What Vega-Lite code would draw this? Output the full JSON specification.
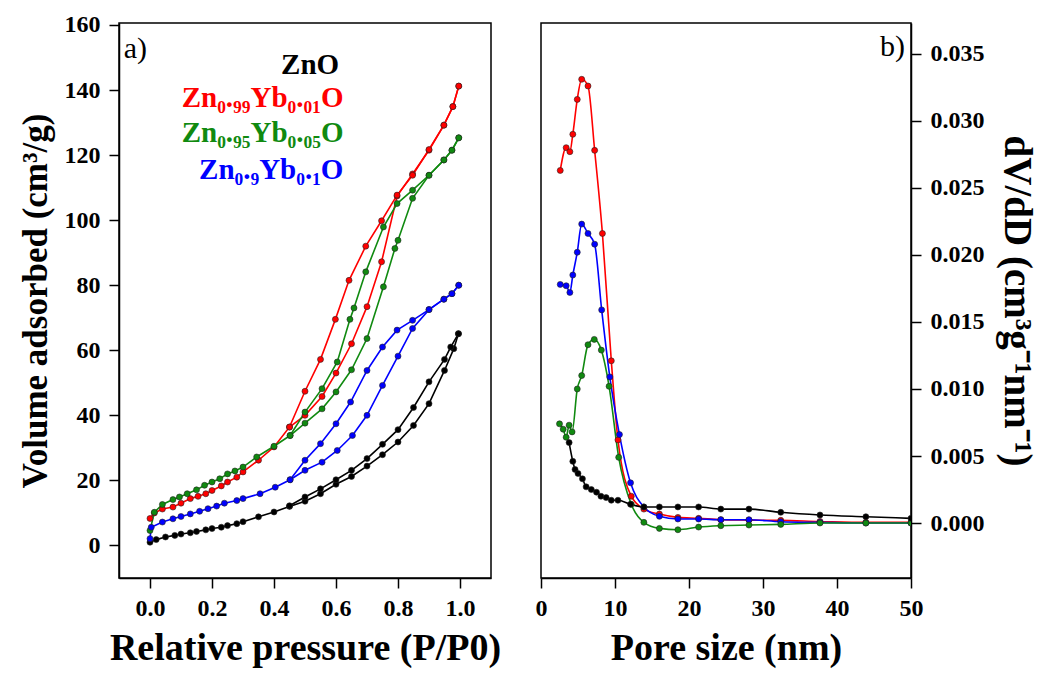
{
  "$schema": "https://vega.github.io/schema/vega-lite/v6.json",
  "padding": {"left": 17, "top": 12, "right": 4, "bottom": 2},
  "background": "white",
  "spacing": 50,
  "bounds": "flush",
  "config": {
    "view": {"stroke": "black", "strokeWidth": 1.5},
    "font": "Liberation Serif",
    "axis": {
      "grid": false,
      "domainColor": "black",
      "domainWidth": 1.5,
      "tickColor": "black",
      "tickWidth": 1.5,
      "labelFont": "Liberation Serif",
      "labelFontWeight": "bold",
      "labelFontSize": 24,
      "labelColor": "black",
      "titleFont": "Liberation Serif",
      "titleFontWeight": "bold",
      "titleFontSize": 38,
      "titleColor": "black",
      "labelBound": false,
      "labelOverlap": false,
      "labelFlush": false
    }
  },
  "datasets": {
    "iso": [
      {"s": "ZnO", "b": "ads", "p": 0, "v": 1.0},
      {"s": "ZnO", "b": "ads", "p": 0.02, "v": 1.8},
      {"s": "ZnO", "b": "ads", "p": 0.05, "v": 2.6},
      {"s": "ZnO", "b": "ads", "p": 0.08, "v": 3.1},
      {"s": "ZnO", "b": "ads", "p": 0.1, "v": 3.5},
      {"s": "ZnO", "b": "ads", "p": 0.13, "v": 3.9},
      {"s": "ZnO", "b": "ads", "p": 0.15, "v": 4.3},
      {"s": "ZnO", "b": "ads", "p": 0.18, "v": 4.8},
      {"s": "ZnO", "b": "ads", "p": 0.2, "v": 5.2},
      {"s": "ZnO", "b": "ads", "p": 0.23, "v": 5.6},
      {"s": "ZnO", "b": "ads", "p": 0.25, "v": 6.1},
      {"s": "ZnO", "b": "ads", "p": 0.28, "v": 6.7},
      {"s": "ZnO", "b": "ads", "p": 0.3, "v": 7.3},
      {"s": "ZnO", "b": "ads", "p": 0.35, "v": 8.8},
      {"s": "ZnO", "b": "ads", "p": 0.4, "v": 10.3},
      {"s": "ZnO", "b": "ads", "p": 0.45, "v": 12.0},
      {"s": "ZnO", "b": "ads", "p": 0.5, "v": 13.6},
      {"s": "ZnO", "b": "ads", "p": 0.55, "v": 15.9},
      {"s": "ZnO", "b": "ads", "p": 0.6, "v": 18.8},
      {"s": "ZnO", "b": "ads", "p": 0.65, "v": 21.2},
      {"s": "ZnO", "b": "ads", "p": 0.7, "v": 24.4},
      {"s": "ZnO", "b": "ads", "p": 0.75, "v": 27.9},
      {"s": "ZnO", "b": "ads", "p": 0.8, "v": 31.8},
      {"s": "ZnO", "b": "ads", "p": 0.85, "v": 36.9},
      {"s": "ZnO", "b": "ads", "p": 0.9, "v": 43.6},
      {"s": "ZnO", "b": "ads", "p": 0.95, "v": 53.8},
      {"s": "ZnO", "b": "ads", "p": 0.98, "v": 60.5},
      {"s": "ZnO", "b": "ads", "p": 0.995, "v": 65.1},
      {"s": "ZnO", "b": "des", "p": 0.995, "v": 65.1},
      {"s": "ZnO", "b": "des", "p": 0.97, "v": 61.0},
      {"s": "ZnO", "b": "des", "p": 0.95, "v": 57.2},
      {"s": "ZnO", "b": "des", "p": 0.9, "v": 50.3},
      {"s": "ZnO", "b": "des", "p": 0.85, "v": 42.4},
      {"s": "ZnO", "b": "des", "p": 0.8, "v": 35.6},
      {"s": "ZnO", "b": "des", "p": 0.75, "v": 31.1},
      {"s": "ZnO", "b": "des", "p": 0.7, "v": 26.7},
      {"s": "ZnO", "b": "des", "p": 0.65, "v": 23.1},
      {"s": "ZnO", "b": "des", "p": 0.6, "v": 20.2},
      {"s": "ZnO", "b": "des", "p": 0.55, "v": 17.4},
      {"s": "ZnO", "b": "des", "p": 0.5, "v": 14.9},
      {"s": "ZnO", "b": "des", "p": 0.45, "v": 12.2},

      {"s": "Zn₀.₉₉Yb₀.₀₁O", "b": "ads", "p": 0, "v": 8.3},
      {"s": "Zn₀.₉₉Yb₀.₀₁O", "b": "ads", "p": 0.014, "v": 10.0},
      {"s": "Zn₀.₉₉Yb₀.₀₁O", "b": "ads", "p": 0.04, "v": 11.2},
      {"s": "Zn₀.₉₉Yb₀.₀₁O", "b": "ads", "p": 0.074, "v": 11.8},
      {"s": "Zn₀.₉₉Yb₀.₀₁O", "b": "ads", "p": 0.1, "v": 13.0},
      {"s": "Zn₀.₉₉Yb₀.₀₁O", "b": "ads", "p": 0.13, "v": 14.4},
      {"s": "Zn₀.₉₉Yb₀.₀₁O", "b": "ads", "p": 0.155, "v": 15.1},
      {"s": "Zn₀.₉₉Yb₀.₀₁O", "b": "ads", "p": 0.18, "v": 15.9},
      {"s": "Zn₀.₉₉Yb₀.₀₁O", "b": "ads", "p": 0.2, "v": 16.9},
      {"s": "Zn₀.₉₉Yb₀.₀₁O", "b": "ads", "p": 0.23, "v": 18.3},
      {"s": "Zn₀.₉₉Yb₀.₀₁O", "b": "ads", "p": 0.25, "v": 19.5},
      {"s": "Zn₀.₉₉Yb₀.₀₁O", "b": "ads", "p": 0.28, "v": 21.0},
      {"s": "Zn₀.₉₉Yb₀.₀₁O", "b": "ads", "p": 0.3, "v": 22.6},
      {"s": "Zn₀.₉₉Yb₀.₀₁O", "b": "ads", "p": 0.35, "v": 26.2},
      {"s": "Zn₀.₉₉Yb₀.₀₁O", "b": "ads", "p": 0.4, "v": 30.3},
      {"s": "Zn₀.₉₉Yb₀.₀₁O", "b": "ads", "p": 0.45, "v": 36.4},
      {"s": "Zn₀.₉₉Yb₀.₀₁O", "b": "ads", "p": 0.5, "v": 40.0},
      {"s": "Zn₀.₉₉Yb₀.₀₁O", "b": "ads", "p": 0.555, "v": 45.8},
      {"s": "Zn₀.₉₉Yb₀.₀₁O", "b": "ads", "p": 0.6, "v": 53.0},
      {"s": "Zn₀.₉₉Yb₀.₀₁O", "b": "ads", "p": 0.65, "v": 62.0},
      {"s": "Zn₀.₉₉Yb₀.₀₁O", "b": "ads", "p": 0.7, "v": 73.4},
      {"s": "Zn₀.₉₉Yb₀.₀₁O", "b": "ads", "p": 0.747, "v": 87.2},
      {"s": "Zn₀.₉₉Yb₀.₀₁O", "b": "ads", "p": 0.797, "v": 107.4},
      {"s": "Zn₀.₉₉Yb₀.₀₁O", "b": "ads", "p": 0.847, "v": 114.2},
      {"s": "Zn₀.₉₉Yb₀.₀₁O", "b": "ads", "p": 0.9, "v": 121.5},
      {"s": "Zn₀.₉₉Yb₀.₀₁O", "b": "ads", "p": 0.948, "v": 129.2},
      {"s": "Zn₀.₉₉Yb₀.₀₁O", "b": "ads", "p": 0.977, "v": 134.9},
      {"s": "Zn₀.₉₉Yb₀.₀₁O", "b": "ads", "p": 0.996, "v": 141.2},
      {"s": "Zn₀.₉₉Yb₀.₀₁O", "b": "des", "p": 0.996, "v": 141.2},
      {"s": "Zn₀.₉₉Yb₀.₀₁O", "b": "des", "p": 0.977, "v": 134.9},
      {"s": "Zn₀.₉₉Yb₀.₀₁O", "b": "des", "p": 0.948, "v": 129.2},
      {"s": "Zn₀.₉₉Yb₀.₀₁O", "b": "des", "p": 0.9, "v": 121.7},
      {"s": "Zn₀.₉₉Yb₀.₀₁O", "b": "des", "p": 0.847, "v": 113.8},
      {"s": "Zn₀.₉₉Yb₀.₀₁O", "b": "des", "p": 0.797, "v": 107.7},
      {"s": "Zn₀.₉₉Yb₀.₀₁O", "b": "des", "p": 0.747, "v": 99.8},
      {"s": "Zn₀.₉₉Yb₀.₀₁O", "b": "des", "p": 0.696, "v": 92.0},
      {"s": "Zn₀.₉₉Yb₀.₀₁O", "b": "des", "p": 0.642, "v": 81.5},
      {"s": "Zn₀.₉₉Yb₀.₀₁O", "b": "des", "p": 0.598, "v": 69.5},
      {"s": "Zn₀.₉₉Yb₀.₀₁O", "b": "des", "p": 0.55, "v": 57.2},
      {"s": "Zn₀.₉₉Yb₀.₀₁O", "b": "des", "p": 0.5, "v": 47.4},
      {"s": "Zn₀.₉₉Yb₀.₀₁O", "b": "des", "p": 0.45, "v": 36.4},

      {"s": "Zn₀.₉₅Yb₀.₀₅O", "b": "ads", "p": 0, "v": 4.6},
      {"s": "Zn₀.₉₅Yb₀.₀₅O", "b": "ads", "p": 0.014, "v": 10.2},
      {"s": "Zn₀.₉₅Yb₀.₀₅O", "b": "ads", "p": 0.04, "v": 12.6},
      {"s": "Zn₀.₉₅Yb₀.₀₅O", "b": "ads", "p": 0.074, "v": 14.1},
      {"s": "Zn₀.₉₅Yb₀.₀₅O", "b": "ads", "p": 0.095, "v": 14.9},
      {"s": "Zn₀.₉₅Yb₀.₀₅O", "b": "ads", "p": 0.12, "v": 15.9},
      {"s": "Zn₀.₉₅Yb₀.₀₅O", "b": "ads", "p": 0.15, "v": 17.1},
      {"s": "Zn₀.₉₅Yb₀.₀₅O", "b": "ads", "p": 0.176, "v": 18.5},
      {"s": "Zn₀.₉₅Yb₀.₀₅O", "b": "ads", "p": 0.2, "v": 19.5},
      {"s": "Zn₀.₉₅Yb₀.₀₅O", "b": "ads", "p": 0.225, "v": 20.5},
      {"s": "Zn₀.₉₅Yb₀.₀₅O", "b": "ads", "p": 0.25, "v": 22.0},
      {"s": "Zn₀.₉₅Yb₀.₀₅O", "b": "ads", "p": 0.274, "v": 22.9},
      {"s": "Zn₀.₉₅Yb₀.₀₅O", "b": "ads", "p": 0.3, "v": 24.1},
      {"s": "Zn₀.₉₅Yb₀.₀₅O", "b": "ads", "p": 0.344, "v": 27.2},
      {"s": "Zn₀.₉₅Yb₀.₀₅O", "b": "ads", "p": 0.4, "v": 30.5},
      {"s": "Zn₀.₉₅Yb₀.₀₅O", "b": "ads", "p": 0.452, "v": 33.8},
      {"s": "Zn₀.₉₅Yb₀.₀₅O", "b": "ads", "p": 0.5, "v": 37.6},
      {"s": "Zn₀.₉₅Yb₀.₀₅O", "b": "ads", "p": 0.555, "v": 42.0},
      {"s": "Zn₀.₉₅Yb₀.₀₅O", "b": "ads", "p": 0.6, "v": 47.2},
      {"s": "Zn₀.₉₅Yb₀.₀₅O", "b": "ads", "p": 0.65, "v": 54.0},
      {"s": "Zn₀.₉₅Yb₀.₀₅O", "b": "ads", "p": 0.7, "v": 63.6},
      {"s": "Zn₀.₉₅Yb₀.₀₅O", "b": "ads", "p": 0.753, "v": 79.5},
      {"s": "Zn₀.₉₅Yb₀.₀₅O", "b": "ads", "p": 0.79, "v": 91.3},
      {"s": "Zn₀.₉₅Yb₀.₀₅O", "b": "ads", "p": 0.8, "v": 93.8},
      {"s": "Zn₀.₉₅Yb₀.₀₅O", "b": "ads", "p": 0.847, "v": 106.7},
      {"s": "Zn₀.₉₅Yb₀.₀₅O", "b": "ads", "p": 0.9, "v": 113.8},
      {"s": "Zn₀.₉₅Yb₀.₀₅O", "b": "ads", "p": 0.948, "v": 118.5},
      {"s": "Zn₀.₉₅Yb₀.₀₅O", "b": "ads", "p": 0.974, "v": 121.5},
      {"s": "Zn₀.₉₅Yb₀.₀₅O", "b": "ads", "p": 0.996, "v": 125.3},
      {"s": "Zn₀.₉₅Yb₀.₀₅O", "b": "des", "p": 0.996, "v": 125.3},
      {"s": "Zn₀.₉₅Yb₀.₀₅O", "b": "des", "p": 0.974, "v": 121.5},
      {"s": "Zn₀.₉₅Yb₀.₀₅O", "b": "des", "p": 0.948, "v": 118.5},
      {"s": "Zn₀.₉₅Yb₀.₀₅O", "b": "des", "p": 0.9, "v": 113.8},
      {"s": "Zn₀.₉₅Yb₀.₀₅O", "b": "des", "p": 0.847, "v": 109.2},
      {"s": "Zn₀.₉₅Yb₀.₀₅O", "b": "des", "p": 0.797, "v": 105.1},
      {"s": "Zn₀.₉₅Yb₀.₀₅O", "b": "des", "p": 0.753, "v": 97.9},
      {"s": "Zn₀.₉₅Yb₀.₀₅O", "b": "des", "p": 0.696, "v": 84.1},
      {"s": "Zn₀.₉₅Yb₀.₀₅O", "b": "des", "p": 0.658, "v": 73.0},
      {"s": "Zn₀.₉₅Yb₀.₀₅O", "b": "des", "p": 0.645, "v": 69.5},
      {"s": "Zn₀.₉₅Yb₀.₀₅O", "b": "des", "p": 0.604, "v": 56.4},
      {"s": "Zn₀.₉₅Yb₀.₀₅O", "b": "des", "p": 0.555, "v": 48.2},
      {"s": "Zn₀.₉₅Yb₀.₀₅O", "b": "des", "p": 0.5, "v": 41.0},
      {"s": "Zn₀.₉₅Yb₀.₀₅O", "b": "des", "p": 0.452, "v": 33.8},

      {"s": "Zn₀.₉Yb₀.₁O", "b": "ads", "p": 0, "v": 2.1},
      {"s": "Zn₀.₉Yb₀.₁O", "b": "ads", "p": 0.004, "v": 5.6},
      {"s": "Zn₀.₉Yb₀.₁O", "b": "ads", "p": 0.04, "v": 7.2},
      {"s": "Zn₀.₉Yb₀.₁O", "b": "ads", "p": 0.074, "v": 8.2},
      {"s": "Zn₀.₉Yb₀.₁O", "b": "ads", "p": 0.1, "v": 8.9},
      {"s": "Zn₀.₉Yb₀.₁O", "b": "ads", "p": 0.13, "v": 9.7},
      {"s": "Zn₀.₉Yb₀.₁O", "b": "ads", "p": 0.16, "v": 10.5},
      {"s": "Zn₀.₉Yb₀.₁O", "b": "ads", "p": 0.187, "v": 11.3},
      {"s": "Zn₀.₉Yb₀.₁O", "b": "ads", "p": 0.215, "v": 12.1},
      {"s": "Zn₀.₉Yb₀.₁O", "b": "ads", "p": 0.24, "v": 13.0},
      {"s": "Zn₀.₉Yb₀.₁O", "b": "ads", "p": 0.28, "v": 13.8},
      {"s": "Zn₀.₉Yb₀.₁O", "b": "ads", "p": 0.3, "v": 14.4},
      {"s": "Zn₀.₉Yb₀.₁O", "b": "ads", "p": 0.355, "v": 15.9},
      {"s": "Zn₀.₉Yb₀.₁O", "b": "ads", "p": 0.404, "v": 17.9},
      {"s": "Zn₀.₉Yb₀.₁O", "b": "ads", "p": 0.452, "v": 20.2},
      {"s": "Zn₀.₉Yb₀.₁O", "b": "ads", "p": 0.5, "v": 23.1},
      {"s": "Zn₀.₉Yb₀.₁O", "b": "ads", "p": 0.555, "v": 25.6},
      {"s": "Zn₀.₉Yb₀.₁O", "b": "ads", "p": 0.604, "v": 29.2},
      {"s": "Zn₀.₉Yb₀.₁O", "b": "ads", "p": 0.653, "v": 33.8},
      {"s": "Zn₀.₉Yb₀.₁O", "b": "ads", "p": 0.7, "v": 40.0},
      {"s": "Zn₀.₉Yb₀.₁O", "b": "ads", "p": 0.75, "v": 49.2},
      {"s": "Zn₀.₉Yb₀.₁O", "b": "ads", "p": 0.8, "v": 58.2},
      {"s": "Zn₀.₉Yb₀.₁O", "b": "ads", "p": 0.847, "v": 66.7},
      {"s": "Zn₀.₉Yb₀.₁O", "b": "ads", "p": 0.9, "v": 72.5},
      {"s": "Zn₀.₉Yb₀.₁O", "b": "ads", "p": 0.948, "v": 75.7},
      {"s": "Zn₀.₉Yb₀.₁O", "b": "ads", "p": 0.974, "v": 77.4},
      {"s": "Zn₀.₉Yb₀.₁O", "b": "ads", "p": 0.996, "v": 80.0},
      {"s": "Zn₀.₉Yb₀.₁O", "b": "des", "p": 0.996, "v": 80.0},
      {"s": "Zn₀.₉Yb₀.₁O", "b": "des", "p": 0.974, "v": 77.4},
      {"s": "Zn₀.₉Yb₀.₁O", "b": "des", "p": 0.948, "v": 75.7},
      {"s": "Zn₀.₉Yb₀.₁O", "b": "des", "p": 0.9, "v": 72.5},
      {"s": "Zn₀.₉Yb₀.₁O", "b": "des", "p": 0.847, "v": 69.2},
      {"s": "Zn₀.₉Yb₀.₁O", "b": "des", "p": 0.797, "v": 66.2},
      {"s": "Zn₀.₉Yb₀.₁O", "b": "des", "p": 0.75, "v": 61.0},
      {"s": "Zn₀.₉Yb₀.₁O", "b": "des", "p": 0.7, "v": 53.8},
      {"s": "Zn₀.₉Yb₀.₁O", "b": "des", "p": 0.647, "v": 44.1},
      {"s": "Zn₀.₉Yb₀.₁O", "b": "des", "p": 0.6, "v": 37.4},
      {"s": "Zn₀.₉Yb₀.₁O", "b": "des", "p": 0.55, "v": 31.3},
      {"s": "Zn₀.₉Yb₀.₁O", "b": "des", "p": 0.5, "v": 26.2},
      {"s": "Zn₀.₉Yb₀.₁O", "b": "des", "p": 0.452, "v": 20.2}
    ],
    "psd": [
      {"s": "Zn₀.₉₉Yb₀.₀₁O", "d": 2.6, "y": 0.0263},
      {"s": "Zn₀.₉₉Yb₀.₀₁O", "d": 3.4, "y": 0.0280},
      {"s": "Zn₀.₉₉Yb₀.₀₁O", "d": 3.9, "y": 0.0277},
      {"s": "Zn₀.₉₉Yb₀.₀₁O", "d": 4.3, "y": 0.0290},
      {"s": "Zn₀.₉₉Yb₀.₀₁O", "d": 4.9, "y": 0.0316},
      {"s": "Zn₀.₉₉Yb₀.₀₁O", "d": 5.5, "y": 0.0331},
      {"s": "Zn₀.₉₉Yb₀.₀₁O", "d": 6.35, "y": 0.0326},
      {"s": "Zn₀.₉₉Yb₀.₀₁O", "d": 7.25, "y": 0.0278},
      {"s": "Zn₀.₉₉Yb₀.₀₁O", "d": 8.3, "y": 0.0216},
      {"s": "Zn₀.₉₉Yb₀.₀₁O", "d": 9.5, "y": 0.0121},
      {"s": "Zn₀.₉₉Yb₀.₀₁O", "d": 10.4, "y": 0.0062},
      {"s": "Zn₀.₉₉Yb₀.₀₁O", "d": 12.2, "y": 0.0020},
      {"s": "Zn₀.₉₉Yb₀.₀₁O", "d": 13.9, "y": 0.00104},
      {"s": "Zn₀.₉₉Yb₀.₀₁O", "d": 16.0, "y": 0.00067},
      {"s": "Zn₀.₉₉Yb₀.₀₁O", "d": 18.5, "y": 0.00042},
      {"s": "Zn₀.₉₉Yb₀.₀₁O", "d": 21.3, "y": 0.00035},
      {"s": "Zn₀.₉₉Yb₀.₀₁O", "d": 24.3, "y": 0.00025},
      {"s": "Zn₀.₉₉Yb₀.₀₁O", "d": 28.1, "y": 0.00022},
      {"s": "Zn₀.₉₉Yb₀.₀₁O", "d": 32.4, "y": 0.0002},
      {"s": "Zn₀.₉₉Yb₀.₀₁O", "d": 37.7, "y": 0.00012},
      {"s": "Zn₀.₉₉Yb₀.₀₁O", "d": 43.9, "y": 0.00005},
      {"s": "Zn₀.₉₉Yb₀.₀₁O", "d": 50, "y": 0.00005},

      {"s": "Zn₀.₉Yb₀.₁O", "d": 2.6, "y": 0.0178},
      {"s": "Zn₀.₉Yb₀.₁O", "d": 3.4, "y": 0.0177},
      {"s": "Zn₀.₉Yb₀.₁O", "d": 3.9, "y": 0.0172},
      {"s": "Zn₀.₉Yb₀.₁O", "d": 4.3, "y": 0.0185},
      {"s": "Zn₀.₉Yb₀.₁O", "d": 4.9, "y": 0.0202},
      {"s": "Zn₀.₉Yb₀.₁O", "d": 5.5, "y": 0.0223},
      {"s": "Zn₀.₉Yb₀.₁O", "d": 6.35, "y": 0.0216},
      {"s": "Zn₀.₉Yb₀.₁O", "d": 7.25, "y": 0.0208},
      {"s": "Zn₀.₉Yb₀.₁O", "d": 8.2, "y": 0.0159},
      {"s": "Zn₀.₉Yb₀.₁O", "d": 9.3, "y": 0.0109},
      {"s": "Zn₀.₉Yb₀.₁O", "d": 10.6, "y": 0.0066},
      {"s": "Zn₀.₉Yb₀.₁O", "d": 12.1, "y": 0.0030},
      {"s": "Zn₀.₉Yb₀.₁O", "d": 13.9, "y": 0.0012},
      {"s": "Zn₀.₉Yb₀.₁O", "d": 16.0, "y": 0.0005},
      {"s": "Zn₀.₉Yb₀.₁O", "d": 18.5, "y": 0.0003},
      {"s": "Zn₀.₉Yb₀.₁O", "d": 21.3, "y": 0.0003},
      {"s": "Zn₀.₉Yb₀.₁O", "d": 24.3, "y": 0.00025},
      {"s": "Zn₀.₉Yb₀.₁O", "d": 28.1, "y": 0.00025},
      {"s": "Zn₀.₉Yb₀.₁O", "d": 32.4, "y": 0.0001},
      {"s": "Zn₀.₉Yb₀.₁O", "d": 37.7, "y": 0.00005},
      {"s": "Zn₀.₉Yb₀.₁O", "d": 43.9, "y": 0.0},
      {"s": "Zn₀.₉Yb₀.₁O", "d": 50, "y": 0.0},

      {"s": "Zn₀.₉₅Yb₀.₀₅O", "d": 2.5, "y": 0.0074},
      {"s": "Zn₀.₉₅Yb₀.₀₅O", "d": 3.0, "y": 0.0070},
      {"s": "Zn₀.₉₅Yb₀.₀₅O", "d": 3.4, "y": 0.0064},
      {"s": "Zn₀.₉₅Yb₀.₀₅O", "d": 3.8, "y": 0.0073},
      {"s": "Zn₀.₉₅Yb₀.₀₅O", "d": 4.2, "y": 0.0068},
      {"s": "Zn₀.₉₅Yb₀.₀₅O", "d": 4.9, "y": 0.0100},
      {"s": "Zn₀.₉₅Yb₀.₀₅O", "d": 5.5, "y": 0.0110},
      {"s": "Zn₀.₉₅Yb₀.₀₅O", "d": 6.35, "y": 0.0133},
      {"s": "Zn₀.₉₅Yb₀.₀₅O", "d": 7.2, "y": 0.0137},
      {"s": "Zn₀.₉₅Yb₀.₀₅O", "d": 8.15, "y": 0.0129},
      {"s": "Zn₀.₉₅Yb₀.₀₅O", "d": 9.2, "y": 0.0102},
      {"s": "Zn₀.₉₅Yb₀.₀₅O", "d": 10.5, "y": 0.0049},
      {"s": "Zn₀.₉₅Yb₀.₀₅O", "d": 12.2, "y": 0.0014},
      {"s": "Zn₀.₉₅Yb₀.₀₅O", "d": 13.9, "y": 0.00005},
      {"s": "Zn₀.₉₅Yb₀.₀₅O", "d": 16.0, "y": -0.0004},
      {"s": "Zn₀.₉₅Yb₀.₀₅O", "d": 18.5, "y": -0.0005},
      {"s": "Zn₀.₉₅Yb₀.₀₅O", "d": 21.3, "y": -0.0003},
      {"s": "Zn₀.₉₅Yb₀.₀₅O", "d": 24.3, "y": -0.0002},
      {"s": "Zn₀.₉₅Yb₀.₀₅O", "d": 28.1, "y": -0.00015},
      {"s": "Zn₀.₉₅Yb₀.₀₅O", "d": 32.4, "y": -0.0001},
      {"s": "Zn₀.₉₅Yb₀.₀₅O", "d": 37.7, "y": 0.0},
      {"s": "Zn₀.₉₅Yb₀.₀₅O", "d": 43.9, "y": 0.0},
      {"s": "Zn₀.₉₅Yb₀.₀₅O", "d": 50, "y": 0.0},

      {"s": "ZnO", "d": 3.8, "y": 0.0060},
      {"s": "ZnO", "d": 4.3, "y": 0.0046},
      {"s": "ZnO", "d": 4.6, "y": 0.0040},
      {"s": "ZnO", "d": 5.0, "y": 0.0037},
      {"s": "ZnO", "d": 5.6, "y": 0.0033},
      {"s": "ZnO", "d": 6.1, "y": 0.0027},
      {"s": "ZnO", "d": 6.8, "y": 0.0025},
      {"s": "ZnO", "d": 7.5, "y": 0.0023},
      {"s": "ZnO", "d": 8.1, "y": 0.0020},
      {"s": "ZnO", "d": 8.8, "y": 0.0019},
      {"s": "ZnO", "d": 9.5, "y": 0.0017},
      {"s": "ZnO", "d": 10.4, "y": 0.0017},
      {"s": "ZnO", "d": 12.1, "y": 0.0014},
      {"s": "ZnO", "d": 13.9, "y": 0.0012},
      {"s": "ZnO", "d": 16.0, "y": 0.0012},
      {"s": "ZnO", "d": 18.5, "y": 0.0012},
      {"s": "ZnO", "d": 21.3, "y": 0.0012},
      {"s": "ZnO", "d": 24.3, "y": 0.00104},
      {"s": "ZnO", "d": 28.1, "y": 0.00104},
      {"s": "ZnO", "d": 32.4, "y": 0.0008},
      {"s": "ZnO", "d": 37.7, "y": 0.0006},
      {"s": "ZnO", "d": 43.9, "y": 0.00047},
      {"s": "ZnO", "d": 50, "y": 0.00035}
    ],
    "leg": [
      {"s": "ZnO", "p": 0.61, "v": 147.7},
      {"s": "Zn₀.₉₉Yb₀.₀₁O", "p": 0.624, "v": 137.5},
      {"s": "Zn₀.₉₅Yb₀.₀₅O", "p": 0.624, "v": 126.8},
      {"s": "Zn₀.₉Yb₀.₁O", "p": 0.624, "v": 115.4}
    ]
  },
  "hconcat": [
    {
      "width": 372,
      "height": 555,
      "layer": [
        {
          "data": {"name": "iso"},
          "mark": {"type": "line", "strokeWidth": 1.6, "clip": true, "point": {"filled": true, "size": 36, "strokeWidth": 0.6, "stroke": "#222222"}},
          "encoding": {
            "x": {
              "field": "p", "type": "quantitative",
              "scale": {"domain": [-0.1, 1.1], "nice": false},
              "axis": {
                "title": "Relative pressure (P/P0)",
                "values": [0, 0.1, 0.2, 0.3, 0.4, 0.5, 0.6, 0.7, 0.8, 0.9, 1.0, 1.1],
                "labelExpr": "round(datum.value*10) % 2 == 0 ? format(datum.value, '.1f') : ''",
                "tickSize": {"condition": {"test": "round(datum.value*10) % 2 == 0", "value": 10}, "value": 5},
                "labelPadding": 8,
                "titlePadding": 9
              }
            },
            "y": {
              "field": "v", "type": "quantitative",
              "scale": {"domain": [-10, 160.6], "nice": false},
              "axis": {
                "title": "Volume adsorbed (cm³/g)",
                "titleFontSize": 35,
                "values": [0, 10, 20, 30, 40, 50, 60, 70, 80, 90, 100, 110, 120, 130, 140, 150, 160],
                "labelExpr": "round(datum.value/10) % 2 == 0 ? format(datum.value, 'd') : ''",
                "tickSize": {"condition": {"test": "round(datum.value/10) % 2 == 0", "value": 10}, "value": 5},
                "labelPadding": 9,
                "titlePadding": 11
              }
            },
            "color": {
              "field": "s", "type": "nominal", "legend": null,
              "scale": {"domain": ["ZnO", "Zn₀.₉₉Yb₀.₀₁O", "Zn₀.₉₅Yb₀.₀₅O", "Zn₀.₉Yb₀.₁O"], "range": ["#000000", "#ff0000", "#108a10", "#0000ff"]}
            },
            "detail": {"field": "b", "type": "nominal"}
          }
        },
        {
          "data": {"name": "leg"},
          "mark": {"type": "text", "align": "right", "baseline": "middle", "font": "Liberation Serif", "fontWeight": "bold", "fontSize": 29},
          "encoding": {
            "x": {"field": "p", "type": "quantitative"},
            "y": {"field": "v", "type": "quantitative"},
            "text": {"field": "s"},
            "color": {
              "field": "s", "type": "nominal", "legend": null,
              "scale": {"domain": ["ZnO", "Zn₀.₉₉Yb₀.₀₁O", "Zn₀.₉₅Yb₀.₀₅O", "Zn₀.₉Yb₀.₁O"], "range": ["#000000", "#ff0000", "#108a10", "#0000ff"]}
            }
          }
        },
        {
          "data": {"values": [{}]},
          "mark": {"type": "text", "align": "left", "baseline": "middle", "font": "Liberation Serif", "fontSize": 30, "color": "black"},
          "encoding": {
            "x": {"datum": -0.085, "type": "quantitative"},
            "y": {"datum": 152.5, "type": "quantitative"},
            "text": {"value": "a)"}
          }
        }
      ]
    },
    {
      "width": 370,
      "height": 555,
      "layer": [
        {
          "data": {"name": "psd"},
          "mark": {"type": "line", "strokeWidth": 1.6, "interpolate": "monotone", "clip": true, "point": {"filled": true, "size": 36, "strokeWidth": 0.6, "stroke": "#222222"}},
          "encoding": {
            "x": {
              "field": "d", "type": "quantitative",
              "scale": {"domain": [0, 50], "nice": false},
              "axis": {
                "title": "Pore size (nm)",
                "values": [0, 5, 10, 15, 20, 25, 30, 35, 40, 45, 50],
                "labelExpr": "round(datum.value/5) % 2 == 0 ? format(datum.value, 'd') : ''",
                "tickSize": {"condition": {"test": "round(datum.value/5) % 2 == 0", "value": 10}, "value": 5},
                "labelPadding": 8,
                "titlePadding": 9
              }
            },
            "y": {
              "field": "y", "type": "quantitative",
              "scale": {"domain": [-0.0041, 0.0373], "nice": false},
              "axis": {
                "orient": "right",
                "title": "dV/dD (cm³g⁻¹nm⁻¹)",
                "titleFontSize": 39,
                "values": [0, 0.0025, 0.005, 0.0075, 0.01, 0.0125, 0.015, 0.0175, 0.02, 0.0225, 0.025, 0.0275, 0.03, 0.0325, 0.035],
                "labelExpr": "round(datum.value*400) % 2 == 0 ? format(datum.value, '.3f') : ''",
                "tickSize": {"condition": {"test": "round(datum.value*400) % 2 == 0", "value": 10}, "value": 5},
                "labelPadding": 9,
                "titlePadding": 12
              }
            },
            "color": {
              "field": "s", "type": "nominal", "legend": null,
              "scale": {"domain": ["ZnO", "Zn₀.₉₉Yb₀.₀₁O", "Zn₀.₉₅Yb₀.₀₅O", "Zn₀.₉Yb₀.₁O"], "range": ["#000000", "#ff0000", "#108a10", "#0000ff"]}
            }
          }
        },
        {
          "data": {"values": [{}]},
          "mark": {"type": "text", "align": "right", "baseline": "middle", "font": "Liberation Serif", "fontSize": 30, "color": "black"},
          "encoding": {
            "x": {"datum": 49.2, "type": "quantitative"},
            "y": {"datum": 0.0355, "type": "quantitative"},
            "text": {"value": "b)"}
          }
        }
      ]
    }
  ]
}
